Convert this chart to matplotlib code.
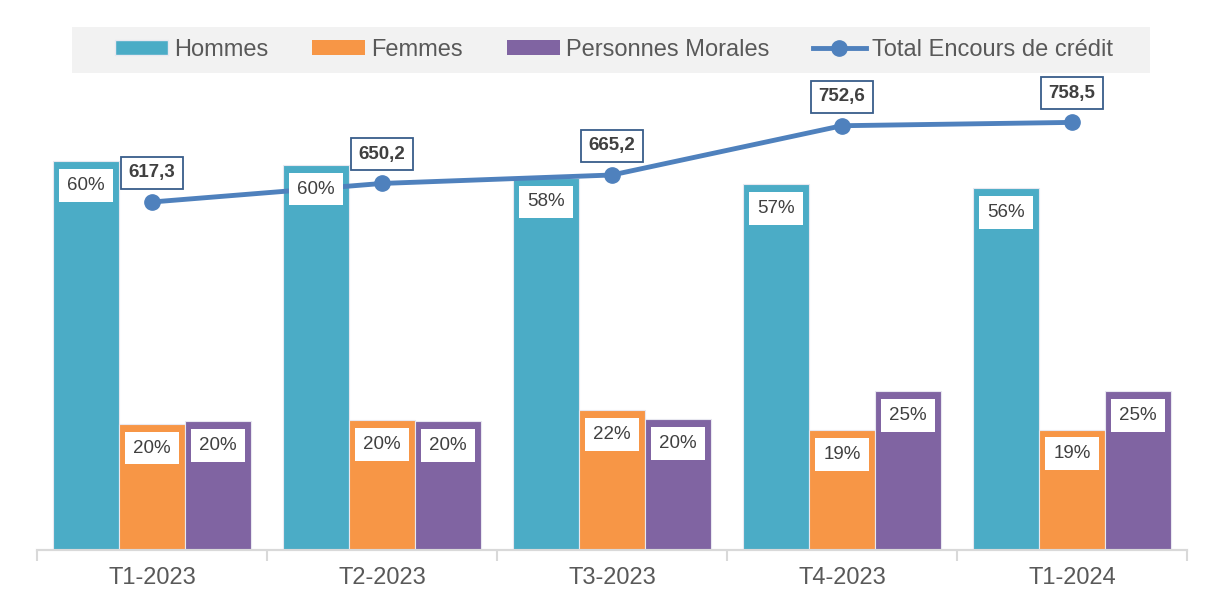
import numpy as np
import matplotlib.pyplot as plt
from matplotlib.patches import Patch, Rectangle
from matplotlib.lines import Line2D

periods = ['T1-2023', 'T2-2023', 'T3-2023', 'T4-2023', 'T1-2024']
hommes = [60.4, 59.8, 57.8, 56.8, 56.2]
femmes = [19.6, 20.2, 21.7, 18.6, 18.7]
morales = [20.0, 20.0, 20.3, 24.7, 24.7]
hommes_lbl = ['60%', '60%', '58%', '57%', '56%']
femmes_lbl = ['20%', '20%', '22%', '19%', '19%']
morales_lbl = ['20%', '20%', '20%', '25%', '25%']
total = [617.3, 650.2, 665.2, 752.6, 758.5]

c_h, c_f, c_m, c_line = '#4BACC6', '#F79646', '#8064A2', '#4F81BD'
txt = '#595959'
plt.rcParams['font.family'] = ['Liberation Sans', 'DejaVu Sans']

W, H = 1213, 602
fig = plt.figure(figsize=(W / 100, H / 100), dpi=100)
ax = fig.add_axes([37 / W, 52 / H, 1150 / W, 451 / H])
ax2 = ax.twinx()

x = np.arange(len(periods))
w = 0.287
series = [(hommes, hommes_lbl, c_h, -w), (femmes, femmes_lbl, c_f, 0), (morales, morales_lbl, c_m, w)]
for vals, lbls, col, off in series:
    bars = ax.bar(x + off, vals, width=w, color=col, edgecolor='#E8E8F0', linewidth=0.8)
    # labels go on ax2 so they sit above the line
    for b, l in zip(bars, lbls):
        ax2.annotate(l, (b.get_x() + b.get_width() / 2, b.get_height()), xycoords=ax.transData,
                     xytext=(0, -17.5), textcoords='offset points', ha='center', va='center',
                     fontsize=13.5, color='#404040', zorder=10,
                     bbox=dict(boxstyle='square,pad=0.42', fc='white', ec='none'))

ax2.plot(x, total, color=c_line, lw=3.5, marker='o', ms=11, zorder=5)
for xi, v in zip(x, total):
    ax2.annotate(f'{v:.1f}'.replace('.', ','), (xi, v), xytext=(0, 21), textcoords='offset points',
                 ha='center', va='center', fontsize=13.5, fontweight='bold', color='#404040', zorder=10,
                 bbox=dict(boxstyle='square,pad=0.4', fc='white', ec='#385D8A', lw=1.3))

ax.set_xlim(-0.5, len(periods) - 0.5)
ax.set_ylim(0, 70)
ax2.set_ylim(0, 800)
ax.set_xticks(x)
ax.set_xticklabels(periods, fontsize=17, color=txt)
ax.tick_params(axis='x', length=0, pad=12)
ax.set_xticks(np.arange(-0.5, len(periods), 1), minor=True)
ax.tick_params(axis='x', which='minor', length=8, color='#D9D9D9', width=1.5)
ax.set_yticks([])
ax2.set_yticks([])
for a in (ax, ax2):
    for s in ['top', 'left', 'right']:
        a.spines[s].set_visible(False)
    a.spines['bottom'].set_color('#D9D9D9')
    a.spines['bottom'].set_linewidth(1.5)

fig.patches.append(Rectangle((72 / W, 1 - 73 / H), 1078 / W, 46 / H, transform=fig.transFigure,
                             fc='#F2F2F2', ec='none', zorder=0))
handles = [Patch(fc=c_h, ec='#E8E8F0'), Patch(fc=c_f), Patch(fc=c_m),
           Line2D([], [], color=c_line, lw=3.5, marker='o', ms=11)]
fig.legend(handles, ['Hommes', 'Femmes', 'Personnes Morales', 'Total Encours de crédit'],
           loc='center', bbox_to_anchor=(614 / W, 1 - 50 / H), ncol=4, frameon=False,
           fontsize=17, labelcolor=txt, handlelength=2.25, handleheight=0.62,
           handletextpad=0.25, columnspacing=1.85)

fig.savefig('out.png', dpi=100)
